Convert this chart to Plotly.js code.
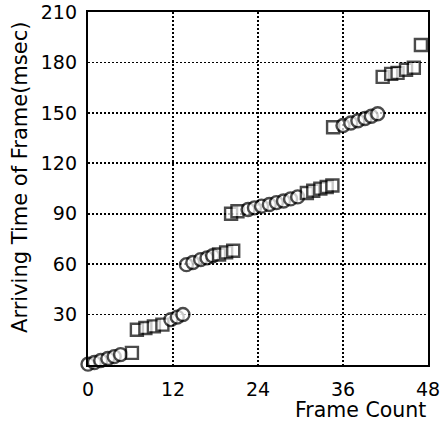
<!DOCTYPE html>
<html>
<head>
<meta charset="utf-8">
<script src="https://cdn.plot.ly/plotly-3.0.1.min.js"></script>
<style>html,body{margin:0;padding:0;background:#fff;}#chart{width:442px;height:423px;}</style>
</head>
<body>
<div id="chart"></div>
<script>
// Frame count (x) of each received frame
const frameCount = [
  0, 0.9, 1.8, 2.8, 3.7, 4.6, 6.2,
  6.9, 8.1, 9.3, 10.5, 11.7, 12.6, 13.4,
  13.9, 14.8, 15.9, 16.8, 17.6, 18.5, 19.5, 20.5,
  20.2, 21.1, 22.6, 23.5, 24.5, 25.6, 26.6, 27.6, 28.6, 29.6, 30.9, 31.8, 32.8, 33.7, 34.5,
  34.6, 36, 37.1, 38.1, 39.1, 40, 40.9,
  41.6, 42.8, 43.7, 44.9, 46, 47
];
// Arriving time of each frame (msec)
const arrivingTime = [
  0.5, 1.5, 2.7, 3.9, 5, 6.2, 7.2,
  21, 22, 23, 24, 27, 28.5, 30,
  59.7, 61, 62.7, 63.7, 65, 65.7, 67, 68,
  90, 91.5, 92.5, 93.5, 94.5, 95.5, 96.6, 97.6, 98.8, 100, 102.3, 103.7, 104.9, 105.9, 106.8,
  141.4, 142.5, 144, 145.3, 146.6, 148, 149.5,
  171.4, 173.2, 173.8, 175.6, 176.8, 190.4
];
// Marker kind of each frame: A = circle, B = square
const frameKind = [
  'A','A','A','A','A','A','B',
  'B','B','B','B','A','A','A',
  'A','A','A','A','A','B','B','B',
  'B','B','A','A','A','A','A','A','A','A','B','B','B','B','B',
  'B','A','A','A','A','A','A',
  'B','B','B','B','B','B'
];
const xTicks = [0, 12, 24, 36, 48];
const yTicks = [30, 60, 90, 120, 150, 180, 210];
const xTitle = 'Frame Count';
const yTitle = 'Arriving Time of Frame(msec)';

const symbols = frameKind.map(k => k === 'A' ? 'circle' : 'square');
const sizes = frameKind.map(k => k === 'A' ? 13 : 12);

const FONT = 'DejaVu Sans, sans-serif';

const trace = {
  type: 'scatter', mode: 'markers',
  x: frameCount, y: arrivingTime,
  cliponaxis: false,
  marker: {symbol: symbols, size: sizes, color: '#ffffff', line: {color: '#000000', width: 2.4}},
  hoverinfo: 'skip', showlegend: false
};

const layout = {
  width: 442, height: 423,
  margin: {l: 88, r: 14, t: 12, b: 58, pad: 0},
  paper_bgcolor: '#ffffff', plot_bgcolor: '#ffffff',
  font: {family: FONT, size: 19, color: '#000000'},
  xaxis: {
    range: [0, 48], tickvals: xTicks, ticktext: xTicks.map(String),
    showgrid: true, gridcolor: '#000000', gridwidth: 1.6, griddash: '2px,2px',
    zeroline: false, showline: true, linecolor: '#000000', linewidth: 2.2, mirror: true,
    ticks: 'outside', ticklen: 6, tickcolor: 'rgba(0,0,0,0)',
    tickfont: {family: FONT, size: 19}
  },
  yaxis: {
    range: [0, 210], tickvals: yTicks, ticktext: yTicks.map(String),
    showgrid: true, gridcolor: '#000000', gridwidth: 1.6, griddash: '2px,2px',
    zeroline: false, showline: true, linecolor: '#000000', linewidth: 2.2, mirror: true,
    ticks: 'outside', ticklen: 5, tickcolor: 'rgba(0,0,0,0)',
    tickfont: {family: FONT, size: 19}
  },
  annotations: [
    {text: yTitle, xref: 'paper', yref: 'paper', x: 0, y: 0.53, xshift: -68,
     xanchor: 'center', yanchor: 'middle', textangle: -90, showarrow: false,
     font: {family: FONT, size: 21, color: '#000000'}},
    {text: xTitle, xref: 'paper', yref: 'paper', x: 1, y: 0, yshift: -45,
     xanchor: 'right', yanchor: 'middle', showarrow: false,
     font: {family: FONT, size: 20.5, color: '#000000'}}
  ]
};

Plotly.newPlot('chart', [trace], layout, {staticPlot: true, displayModeBar: false});
</script>
</body>
</html>
